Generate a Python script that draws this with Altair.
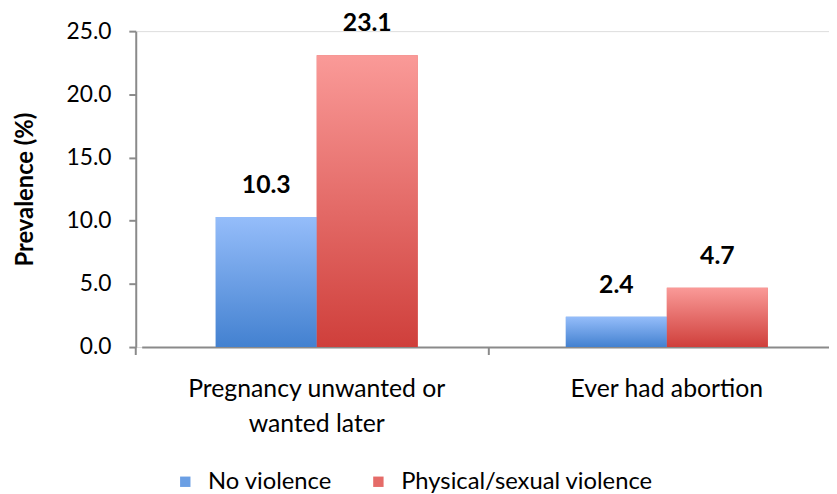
import altair as alt
import pandas as pd

categories = ["Pregnancy unwanted or\nwanted later", "Ever had abortion"]
series = ["No violence", "Physical/sexual violence"]
no_violence = [10.3, 2.4]
physical_sexual = [23.1, 4.7]

rows = []
for i, c in enumerate(categories):
    rows.append({"category": c, "series": series[0], "value": no_violence[i]})
    rows.append({"category": c, "series": series[1], "value": physical_sexual[i]})
df = pd.DataFrame(rows)

FONT = "Lato"
PADL = 129
W, H = 829 - PADL, 319
STEP = 353.5
OFF = 6

solid = ["#6B9FE4", "#E56B68"]
grads = {
    series[0]: ("#95BDFA", "#4381D0"),
    series[1]: ("#FA9A98", "#CF3F3B"),
}

x_enc = alt.X(
    "category:N",
    sort=categories,
    scale=alt.Scale(range=[OFF, OFF + 2 * STEP], paddingInner=0.423, paddingOuter=0.2115),
    axis=alt.Axis(
        title=None,
        labelAngle=0,
        ticks=False,
        labelPadding=30,
        labelFontSize=25,
        labelFont=FONT,
        labelColor="#000000",
        labelExpr="split(datum.label, '\\n')",
        labelLineHeight=35,
        labelLimit=500,
        domainColor="#8a8a8a",
        domainWidth=2,
    ),
)
xo_enc = alt.XOffset("series:N", sort=series)
y_enc = alt.Y(
    "value:Q",
    scale=alt.Scale(domain=[0, 25], nice=False),
    axis=alt.Axis(
        title="Prevalence (%)",
        titleFont=FONT,
        titleFontSize=24,
        titleFontWeight="bold",
        titleColor="#000000",
        titlePadding=29,
        values=[0, 5, 10, 15, 20, 25],
        format=".1f",
        labelFont=FONT,
        labelFontSize=23,
        labelColor="#000000",
        labelPadding=18,
        tickSize=7,
        tickWidth=2,
        tickColor="#8a8a8a",
        domainColor="#8a8a8a",
        domainWidth=2,
        grid=False,
    ),
)

base = alt.Chart(df)

bars = base.mark_bar().encode(
    x=x_enc,
    xOffset=xo_enc,
    y=y_enc,
    color=alt.Color(
        "series:N",
        sort=series,
        scale=alt.Scale(domain=series, range=solid),
        legend=alt.Legend(
            title=None,
            orient="none",
            direction="horizontal",
            legendX=38,
            legendY=443,
            symbolType="square",
            symbolSize=110,
            symbolStrokeWidth=0,
            labelFont=FONT,
            labelFontSize=24,
            labelColor="#000000",
            labelLimit=500,
            columnPadding=34,
            labelOffset=11,
        ),
    ),
)

layers = [bars]
for s in series:
    top, bottom = grads[s]
    g = alt.LinearGradient(
        gradient="linear",
        stops=[alt.GradientStop(color=top, offset=0), alt.GradientStop(color=bottom, offset=1)],
        x1=0, x2=0, y1=0, y2=1,
    )
    layers.append(
        base.transform_filter(alt.datum.series == s)
        .mark_bar(color=g)
        .encode(x=alt.X("category:N", sort=categories), xOffset=xo_enc, y="value:Q")
    )

labels = base.mark_text(
    font=FONT, fontSize=25, fontWeight="bold", color="#000000", baseline="middle", dy=-32
).encode(
    x=alt.X("category:N", sort=categories),
    xOffset=xo_enc,
    y="value:Q",
    text=alt.Text("value:Q", format=".1f"),
)
layers.append(labels)

# category boundary tick marks on the x axis
for px in [0, STEP + 3]:
    layers.append(
        alt.Chart(pd.DataFrame({"t": [0]})).mark_rule(color="#8a8a8a", strokeWidth=2).encode(
            x=alt.value(px), y=alt.value(H), y2=alt.value(H + 8)
        )
    )

chart = alt.layer(*layers).properties(
    width=W,
    height=H,
    autosize=alt.AutoSizeParams(type="none"),
    padding={"left": PADL, "top": 21, "right": 0, "bottom": 146},
).configure_view(stroke=None).configure(background="white")

chart.save("out.html", embed_options={"renderer": "svg", "actions": False})
